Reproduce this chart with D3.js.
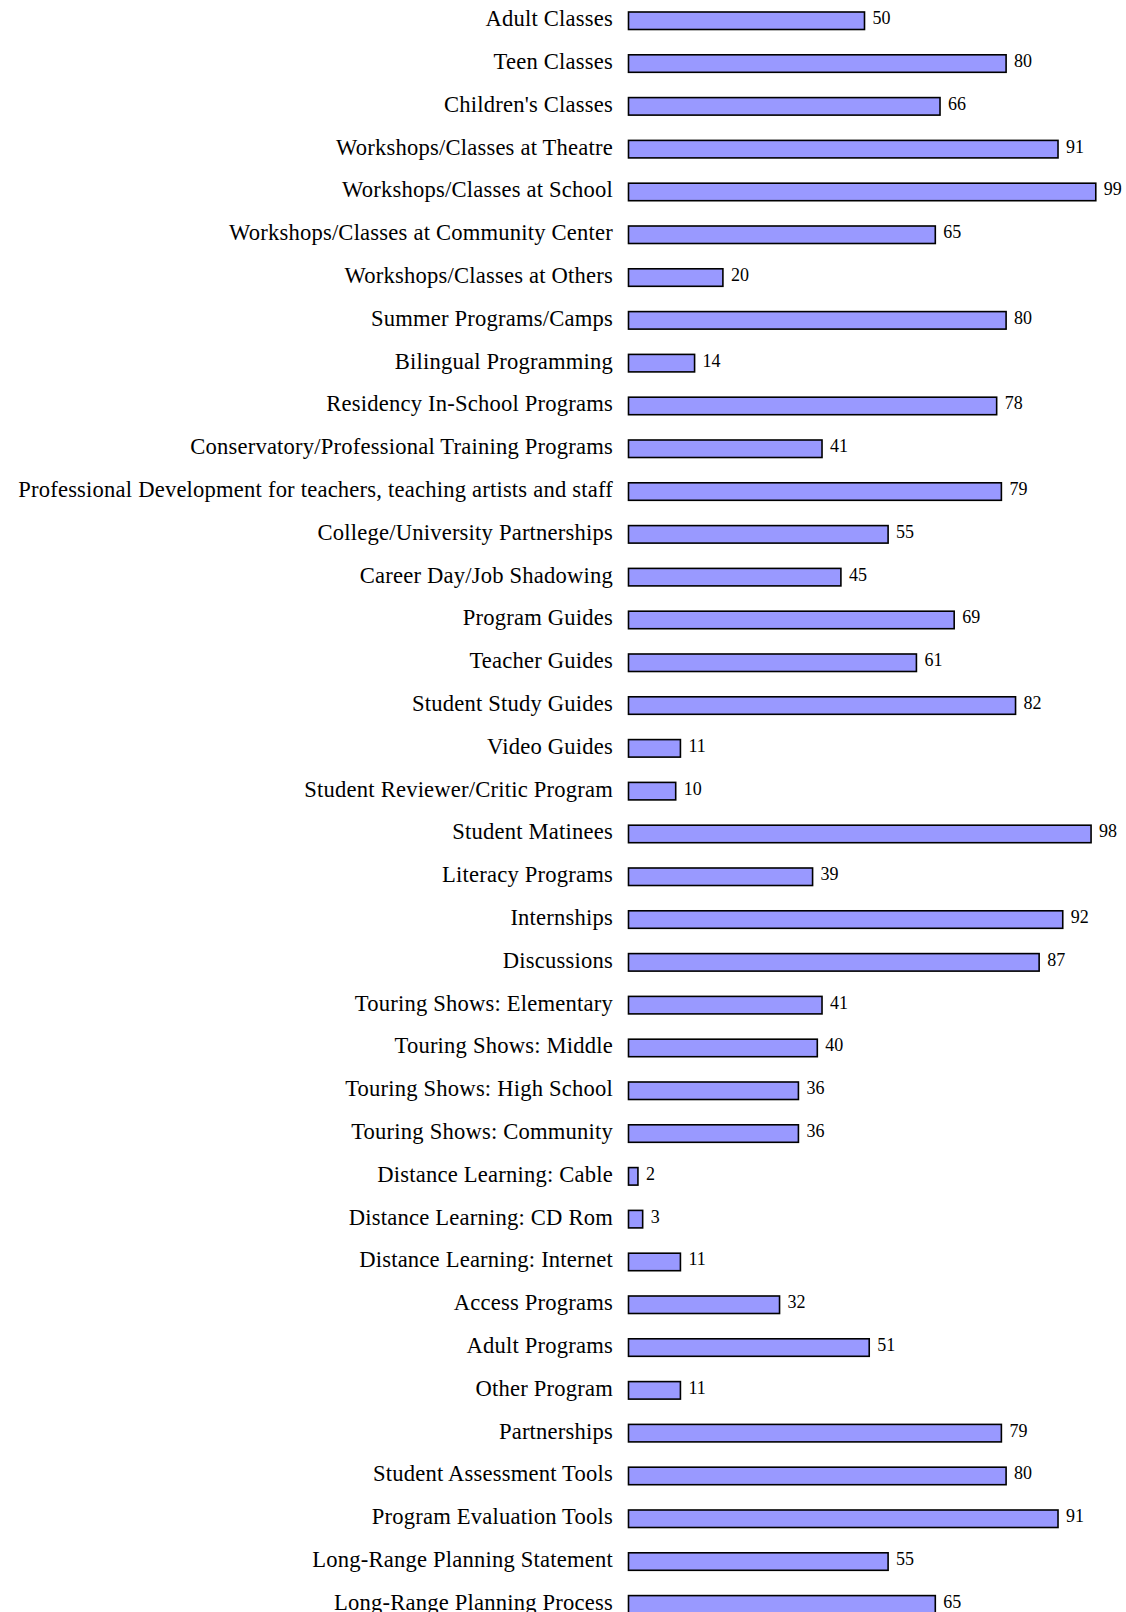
<!DOCTYPE html>
<html>
<head>
<meta charset="utf-8">
<script src="https://cdn.jsdelivr.net/npm/d3@7"></script>
<style>
  body { margin: 0; background: #fff; }
  svg text { font-family: "Liberation Serif", "Times New Roman", serif; fill: #000; }
</style>
</head>
<body>
<div class="chart"></div>
<script>
// Data
const categories = [
    "Adult Classes", "Teen Classes", "Children's Classes",
    "Workshops/Classes at Theatre", "Workshops/Classes at School",
    "Workshops/Classes at Community Center", "Workshops/Classes at Others",
    "Summer Programs/Camps", "Bilingual Programming", "Residency In-School Programs",
    "Conservatory/Professional Training Programs",
    "Professional Development for teachers, teaching artists and staff",
    "College/University Partnerships", "Career Day/Job Shadowing",
    "Program Guides", "Teacher Guides", "Student Study Guides", "Video Guides",
    "Student Reviewer/Critic Program", "Student Matinees", "Literacy Programs",
    "Internships", "Discussions", "Touring Shows: Elementary", "Touring Shows: Middle",
    "Touring Shows: High School", "Touring Shows: Community",
    "Distance Learning: Cable", "Distance Learning: CD Rom", "Distance Learning: Internet",
    "Access Programs", "Adult Programs", "Other Program", "Partnerships",
    "Student Assessment Tools", "Program Evaluation Tools",
    "Long-Range Planning Statement", "Long-Range Planning Process"
];
const values = [
    50, 80, 66, 91, 99, 65, 20, 80, 14, 78,
    41, 79, 55, 45, 69, 61, 82, 11, 10, 98,
    39, 92, 87, 41, 40, 36, 36, 2, 3, 11,
    32, 51, 11, 79, 80, 91, 55, 65
];

const data = categories.map((c, i) => ({ label: c, value: values[i] }));

function drawBarChart(data) {
    const width = 1126;
    const height = 1612;
    const left = 628.5;
    const top = 12;
    const step = 42.8;
    const barHeight = 17.5;

    const svg = d3.select(".chart").append("svg")
        .attr("width", width)
        .attr("height", height);

    const xScale = d3.scaleLinear()
        .domain([0, 100])
        .range([left, left + 472]);

    // band scale: step of 42.8px, bars 17.5px tall
    const yScale = d3.scaleBand()
        .domain(data.map(d => d.label))
        .range([top, top + step * (data.length - 1) + barHeight])
        .paddingInner(1 - barHeight / step)
        .paddingOuter(0);

    // bars
    svg.selectAll(".bar")
        .data(data)
        .enter()
        .append("rect")
        .attr("class", "bar")
        .attr("x", xScale(0))
        .attr("y", d => yScale(d.label))
        .attr("width", d => xScale(d.value) - xScale(0))
        .attr("height", yScale.bandwidth())
        .attr("fill", "#9999ff")
        .attr("stroke", "#000")
        .attr("stroke-width", 1.6);

    // category labels
    svg.selectAll(".label")
        .data(data)
        .enter()
        .append("text")
        .attr("class", "label")
        .attr("x", 613)
        .attr("y", d => yScale(d.label) + yScale.bandwidth() / 2 + 5.5)
        .attr("text-anchor", "end")
        .style("font-size", "22.6px")
        .style("letter-spacing", "0.2px")
        .text(d => d.label);

    // value labels
    svg.selectAll(".value")
        .data(data)
        .enter()
        .append("text")
        .attr("class", "value")
        .attr("x", d => xScale(d.value) + 8)
        .attr("y", d => yScale(d.label) + yScale.bandwidth() / 2 + 3.5)
        .style("font-size", "18px")
        .text(d => d.value);
}

drawBarChart(data);
</script>
</body>
</html>
